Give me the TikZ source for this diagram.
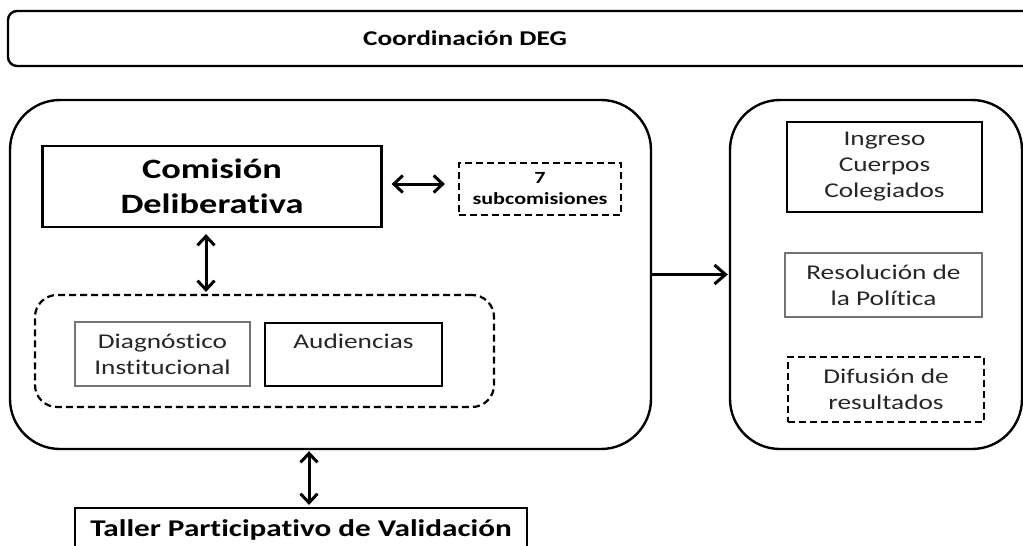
\documentclass[tikz,border=0pt]{standalone}
\usepackage{fontspec}
\setmainfont{Carlito}[FakeStretch=1.3,Ligatures=NoCommon]
\usetikzlibrary{arrows.meta}
\newcommand\fReg{\fontsize{21}{26}\selectfont}
\begin{document}
\begin{tikzpicture}[x=1pt,y=-1pt,
  bx/.style={draw, line width=2.2pt, inner sep=0pt, align=center},
  big/.style={draw, line width=2.4pt, rounded corners=50pt, inner sep=0pt},
  dsh/.style={dash pattern=on 7pt off 4pt},
  reg/.style={font=\fReg, text=black!85},
  graybx/.style={draw=black!55},
  dbl/.style={line width=3pt, {Straight Barb[length=9pt,width=17pt]}-{Straight Barb[length=9pt,width=17pt]}},
  arr/.style={line width=3pt, -{Straight Barb[length=11pt,width=19pt]}}
]
\clip (0,0) rectangle (1023,546);
\fill[white] (0,0) rectangle (1023,546);

% top coordination bar
\node[draw, line width=2.4pt, rounded corners=9pt, minimum width=1032pt, minimum height=55pt, inner sep=0pt] (top) at (524,38.5) {};
\node[font=\fontsize{21}{26}\selectfont\bfseries, inner sep=0pt] (toptxt) at (465,38) {Coordinación DEG};

% big containers
\node[big, minimum width=641pt, minimum height=349pt] (left) at (330.5,274.5) {};
\node[big, minimum width=292pt, minimum height=349pt] (right) at (876,274.5) {};

% left content
\node[bx, minimum width=339pt, minimum height=81pt, font=\fontsize{28}{35}\selectfont\bfseries] (com) at (212,186.5) {Comisión\\Deliberativa};
\node[bx, dsh, minimum width=162pt, minimum height=52pt, font=\fontsize{17}{21}\selectfont\bfseries] (sub) at (540,189) {7\\subcomisiones};
\node[draw, line width=2.2pt, dsh, rounded corners=22pt, minimum width=459pt, minimum height=112pt, inner sep=0pt] (grp) at (264.5,351) {};
\node[bx, graybx, reg, minimum width=175pt, minimum height=64pt] (diag) at (162.5,354) {Diagnóstico\\Institucional};
\node[bx, reg, minimum width=177pt, minimum height=63pt] (aud) at (353.5,354.5) {Audiencias\\\mbox{}};

% right content
\node[bx, reg, minimum width=195pt, minimum height=90pt] (ing) at (884.5,167) {Ingreso\\Cuerpos\\Colegiados};
\node[bx, graybx, reg, minimum width=197pt, minimum height=64pt] (res) at (883.5,285) {Resolución de\\la Política};
\node[bx, dsh, reg, minimum width=196pt, minimum height=65pt] (dif) at (886,389.5) {Difusión de\\resultados};

% bottom workshop
\node[bx, minimum width=452pt, minimum height=44pt, font=\fontsize{24}{28}\selectfont\bfseries] (tal) at (301,530) {Taller Participativo de Validación};

% connectors
\draw[dbl] ([xshift=9pt,yshift=2.5pt]com.east) -- ([xshift=-13pt,yshift=5pt]sub.west);
\draw[dbl, shorten <=6pt, shorten >=2pt] ([xshift=-6pt]com.south) -- ([xshift=-6pt]com.south |- grp.north);
\draw[arr, shorten >=1pt] (left.east) -- (right.west);
\draw[dbl, shorten <=2pt, shorten >=1pt] ([xshift=8pt]tal.north) -- ([xshift=8pt]tal.north |- left.south);
\end{tikzpicture}
\end{document}
